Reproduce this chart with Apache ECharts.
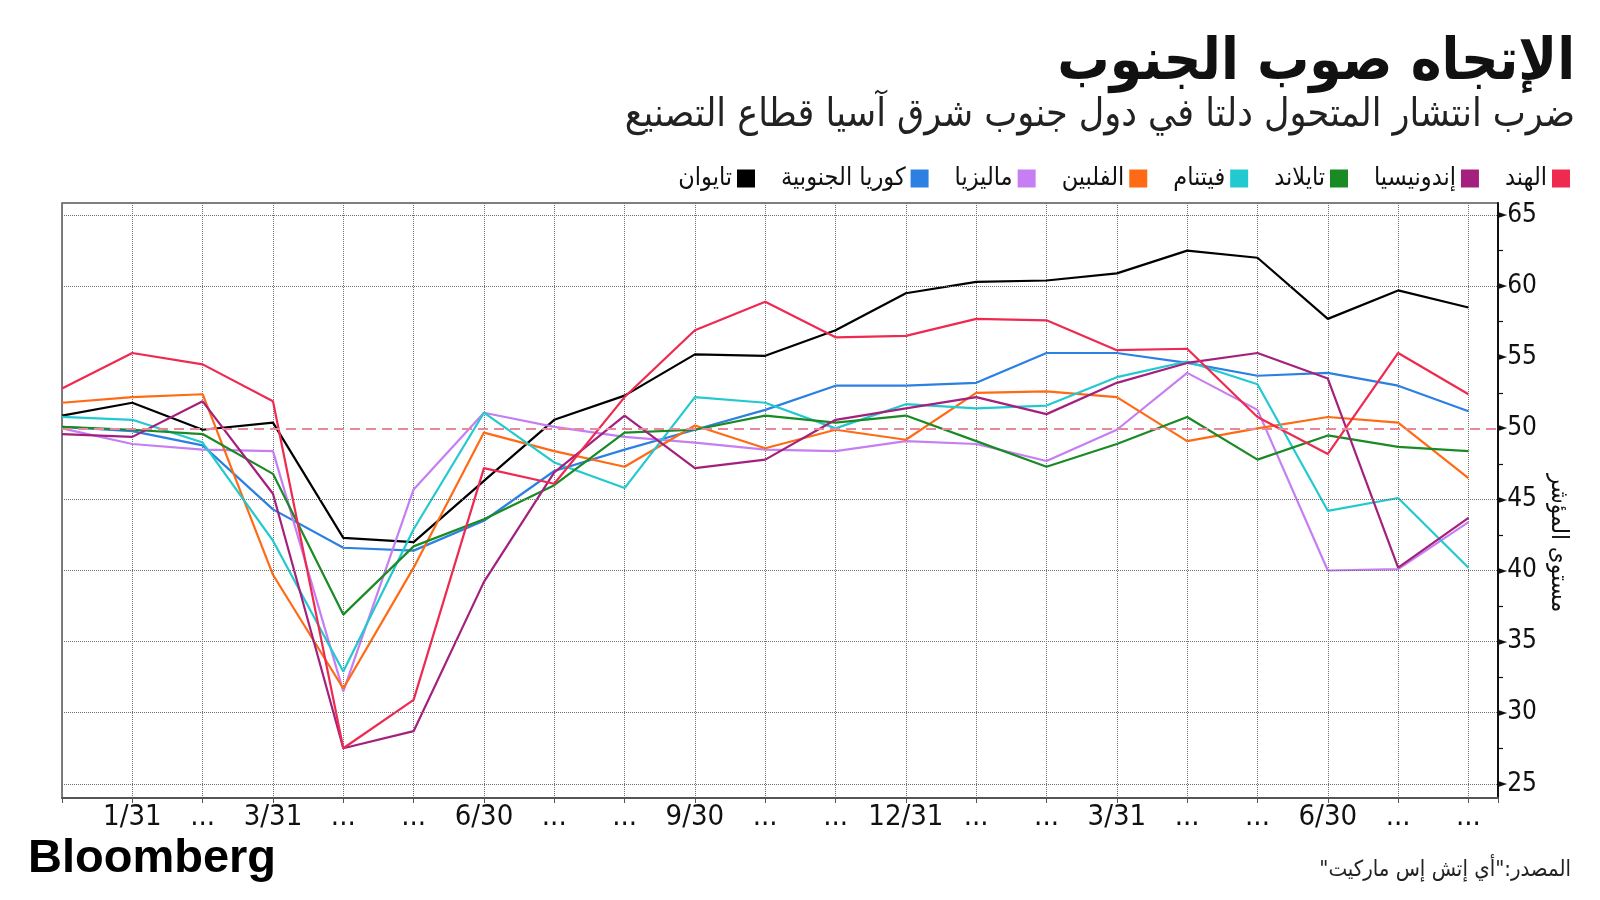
<!DOCTYPE html>
<html><head><meta charset="utf-8">
<script src="https://cdn.jsdelivr.net/npm/echarts@6/dist/echarts.min.js"></script>
<style>html,body{margin:0;padding:0;background:#fff}#c{width:1600px;height:900px}</style>
</head><body><div id="c"></div>
<script>
const xLabels = ['', '1/31', '...', '3/31', '...', '...', '6/30', '...', '...', '9/30', '...', '...', '12/31', '...', '...', '3/31', '...', '...', '6/30', '...', '...'];
const yTicks = [25, 30, 35, 40, 45, 50, 55, 60, 65];
const yMinorTicks = [27.5, 32.5, 37.5, 42.5, 47.5, 52.5, 57.5, 62.5];
const gridValues = [25, 30, 35, 40, 45, 60, 65];
const refLine = 50;

const india       = [52.8, 55.3, 54.5, 51.9, 27.5, 30.9, 47.2, 46.1, 52.2, 56.9, 58.9, 56.4, 56.5, 57.7, 57.6, 55.5, 55.6, 50.8, 48.2, 55.3, 52.4];
const indonesia   = [49.6, 49.4, 51.9, 45.4, 27.5, 28.7, 39.2, 46.9, 50.9, 47.2, 47.8, 50.6, 51.4, 52.2, 51.0, 53.2, 54.6, 55.3, 53.5, 40.2, 43.7];
const thailand    = [50.1, 49.9, 49.6, 46.8, 36.9, 41.7, 43.6, 46.0, 49.7, 49.9, 50.9, 50.4, 50.9, 49.1, 47.3, 48.9, 50.8, 47.8, 49.5, 48.7, 48.4];
const vietnam     = [50.8, 50.6, 49.0, 42.1, 32.9, 42.9, 51.1, 47.6, 45.8, 52.2, 51.8, 50.0, 51.7, 51.4, 51.6, 53.6, 54.7, 53.1, 44.2, 45.1, 40.2];
const philippines = [51.8, 52.2, 52.4, 39.7, 31.7, 40.2, 49.7, 48.4, 47.3, 50.2, 48.6, 49.9, 49.2, 52.5, 52.6, 52.2, 49.1, 50.0, 50.8, 50.4, 46.5];
const malaysia    = [50.0, 48.9, 48.5, 48.4, 31.5, 45.7, 51.1, 50.1, 49.4, 49.0, 48.5, 48.4, 49.1, 48.9, 47.7, 49.9, 53.9, 51.3, 40.0, 40.1, 43.4];
const korea       = [50.1, 49.8, 48.8, 44.3, 41.6, 41.4, 43.5, 47.0, 48.5, 49.9, 51.3, 53.0, 53.0, 53.2, 55.3, 55.3, 54.6, 53.7, 53.9, 53.0, 51.2];
const taiwan      = [50.9, 51.8, 49.9, 50.4, 42.3, 42.0, 46.3, 50.6, 52.3, 55.2, 55.1, 56.9, 59.5, 60.3, 60.4, 60.9, 62.5, 62.0, 57.7, 59.7, 58.5];

const seriesDefs = [
  {name: 'تايوان', data: taiwan, color: '#000000'},
  {name: 'كوريا الجنوبية', data: korea, color: '#2b80e2'},
  {name: 'ماليزيا', data: malaysia, color: '#c67ef3'},
  {name: 'الفلبين', data: philippines, color: '#ff6a14'},
  {name: 'فيتنام', data: vietnam, color: '#22c9cf'},
  {name: 'تايلاند', data: thailand, color: '#1a8a25'},
  {name: 'إندونيسيا', data: indonesia, color: '#a3217d'},
  {name: 'الهند', data: india, color: '#ee2a50'}
];

const AR = "'DejaVu Sans Condensed', 'DejaVu Sans', sans-serif";
const NUM = "'DejaVu Sans Condensed', 'DejaVu Sans', sans-serif";
const chart = echarts.init(document.getElementById('c'), null, {renderer: 'canvas'});

const series = seriesDefs.map(s => ({
  name: s.name, type: 'line', data: s.data.map((v, i) => [i, v]),
  showSymbol: false, symbol: 'none', color: s.color,
  lineStyle: {width: 2.2, color: s.color}, emphasis: {disabled: true}, z: 3
}));
series.push({
  name: 'grid', type: 'line', data: [], silent: true,
  markLine: {
    silent: true, symbol: 'none', label: {show: false},
    lineStyle: {type: 'dotted', color: '#6f6f6f', width: 1},
    data: gridValues.map(v => ({yAxis: v}))
  }
});
series.push({
  name: 'ref', type: 'line', data: [], silent: true, z: 2,
  markLine: {
    silent: true, symbol: 'none', label: {show: false},
    lineStyle: {type: [10, 6], color: '#e8889d', width: 2},
    data: [{yAxis: refLine}]
  }
});

chart.setOption({
  animation: false,
  backgroundColor: '#ffffff',
  grid: {left: 62, right: 102, top: 203, bottom: 102, show: true, borderColor: '#555', borderWidth: 1.5, containLabel: false},
  legend: {
    data: seriesDefs.map(s => s.name), right: 25, top: 161, align: 'right',
    icon: 'rect', itemWidth: 18, itemHeight: 18, itemGap: 26,
    textStyle: {fontFamily: AR, fontSize: 25, color: '#111'}, selectedMode: false
  },
  xAxis: {
    type: 'value', min: 0, max: 20.42, interval: 1,
    axisLine: {show: true, onZero: false, lineStyle: {color: '#555', width: 2}},
    axisTick: {show: true, length: 5, lineStyle: {color: '#555'}},
    axisLabel: {formatter: v => (Number.isInteger(v) ? xLabels[v] : ''), fontFamily: NUM, fontSize: 29, color: '#111', margin: 5},
    splitLine: {show: true, lineStyle: {type: 'dotted', color: '#6f6f6f', width: 1}}
  },
  yAxis: {
    type: 'value', position: 'right', min: 24, max: 65.85,
    axisLine: {show: true, onZero: false, lineStyle: {color: '#111', width: 2}},
    axisTick: {show: true, customValues: yMinorTicks, length: 5, lineStyle: {color: '#111', width: 1.2}},
    axisLabel: {
      customValues: yTicks, margin: 0,
      formatter: v => '{a|►}{b|' + v + '}',
      rich: {
        a: {fontSize: 12, color: '#111', fontFamily: 'DejaVu Sans'},
        b: {fontSize: 26, color: '#111', fontFamily: NUM}
      }
    },
    splitLine: {show: false}
  },
  graphic: [
    {type: 'text', right: 25, top: 35, style: {text: 'الإتجاه صوب الجنوب', font: "bold 58px " + AR, fill: '#111'}},
    {type: 'text', right: 25, top: 96, style: {text: 'ضرب انتشار المتحول دلتا في دول جنوب شرق آسيا قطاع التصنيع', font: "39px " + AR, fill: '#222'}},
    {type: 'text', x: 1558, y: 543, rotation: -Math.PI / 2, style: {text: 'مستوى المؤشر', font: "24px " + AR, fill: '#111', align: 'center', verticalAlign: 'middle'}},
    {type: 'text', left: 28, top: 836, style: {text: 'Bloomberg', font: "bold 47px 'Liberation Sans', Arial, sans-serif", fill: '#000'}},
    {type: 'text', right: 29, top: 859, style: {text: '\u202Bالمصدر:"أي إتش إس ماركيت"\u202C', font: "22px " + AR, fill: '#222'}}
  ],
  series: series
});
</script></body></html>
